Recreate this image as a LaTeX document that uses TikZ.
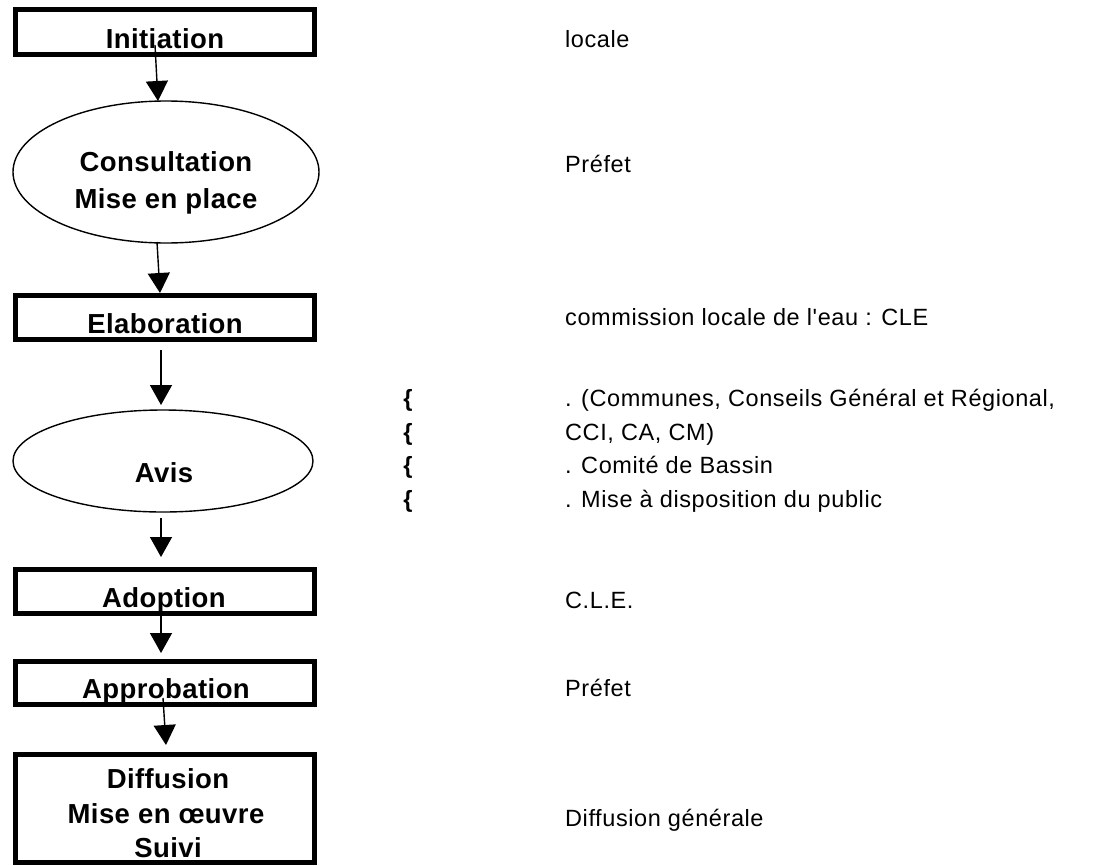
\documentclass[tikz,border=0pt]{standalone}
\usepackage{fontspec}
\setmainfont{Liberation Sans}[Ligatures=TeXOff]
\usetikzlibrary{shapes.geometric,arrows.meta,calc}
\begin{document}
\begin{tikzpicture}[x=1pt,y=-1pt,
  stepbox/.style={draw,line width=5pt,rectangle,inner sep=0pt,outer sep=0pt,minimum width=299pt},
  oval/.style={draw,line width=1.4pt,ellipse,inner sep=0pt,outer sep=0pt},
  lbl/.style={font=\fontsize{27.5}{32}\selectfont\bfseries\addfontfeature{LetterSpace=1.5},anchor=base,inner sep=0pt},
  rtxt/.style={font=\fontsize{23.5}{27}\selectfont\addfontfeature{LetterSpace=2.5},anchor=base west,inner sep=0pt},
  brace/.style={font=\fontsize{23.5}{27}\selectfont\bfseries,anchor=base,inner sep=0pt},
  arr/.style={line width=1.4pt,-{Triangle[width=22pt,length=20pt]}}]
\useasboundingbox (0,0) rectangle (1095,865);
% boxes and ovals
\node[stepbox,minimum height=45pt] (init) at (165,32) {};
\node[oval,minimum width=306pt,minimum height=142pt] (cons) at (166,172) {};
\node[stepbox,minimum height=44pt] (elab) at (165,317.5) {};
\node[oval,minimum width=300pt,minimum height=102pt] (avis) at (163,461) {};
\node[stepbox,minimum height=44pt] (adop) at (165,591.5) {};
\node[stepbox,minimum height=43pt] (appr) at (165,683) {};
\node[stepbox,minimum height=108pt] (diff) at (165,808.5) {};
% labels
\node[lbl] (tinit) at (165,48) {Initiation};
\node[lbl] (tcons1) at (166,171) {Consultation};
\node[lbl] (tcons2) at (166,208) {Mise en place};
\node[lbl] (telab) at (165,333) {Elaboration};
\node[lbl] (tavis) at (164,482) {Avis};
\node[lbl] (tadop) at (164,607) {Adoption};
\node[lbl] (tappr) at (166,698) {Approbation};
\node[lbl] (tdiff1) at (168,788) {Diffusion};
\node[lbl] (tdiff2) at (166,823) {Mise en œuvre};
\node[lbl] (tdiff3) at (168,857) {Suivi};
% arrows
\draw[arr] ($(init.south)+(-10,-9.5)$) -- ($(cons.north)+(-8,0)$);
\draw[arr] ($(cons.south)+(-9,-1)$) -- ($(elab.north)+(-5,-2.5)$);
\draw[arr] ($(elab.south)+(-4,10.5)$) -- ($(avis.north)+(-2,-5)$);
\draw[arr] ($(avis.south)+(-2,6)$) -- ($(adop.north)+(-4,-12.5)$);
\draw[arr] ($(adop.south)+(-4,-5.5)$) -- ($(appr.north)+(-4,-8.5)$);
\draw[arr] ($(appr.south)+(-2,-6.5)$) -- ($(diff.north)+(1,-9.5)$);
% right column
\node[rtxt] (r1) at (565,47) {locale};
\node[rtxt] (r2) at (565,172) {Préfet};
\node[rtxt] (r3) at (565,325) {commission locale de l'eau : CLE};
\node[brace] (b1) at (408,406) {\{};
\node[brace] (b2) at (408,440) {\{};
\node[brace] (b3) at (408,473) {\{};
\node[brace] (b4) at (408,507) {\{};
\node[rtxt] (r4) at (565,406) {. (Communes, Conseils Général et Régional,};
\node[rtxt] (r5) at (565,440) {CCI, CA, CM)};
\node[rtxt] (r6) at (565,473) {. Comité de Bassin};
\node[rtxt] (r7) at (565,507) {. Mise à disposition du public};
\node[rtxt] (r8) at (565,608) {C.L.E.};
\node[rtxt] (r9) at (565,696) {Préfet};
\node[rtxt] (r10) at (565,826) {Diffusion générale};
\end{tikzpicture}
\end{document}
